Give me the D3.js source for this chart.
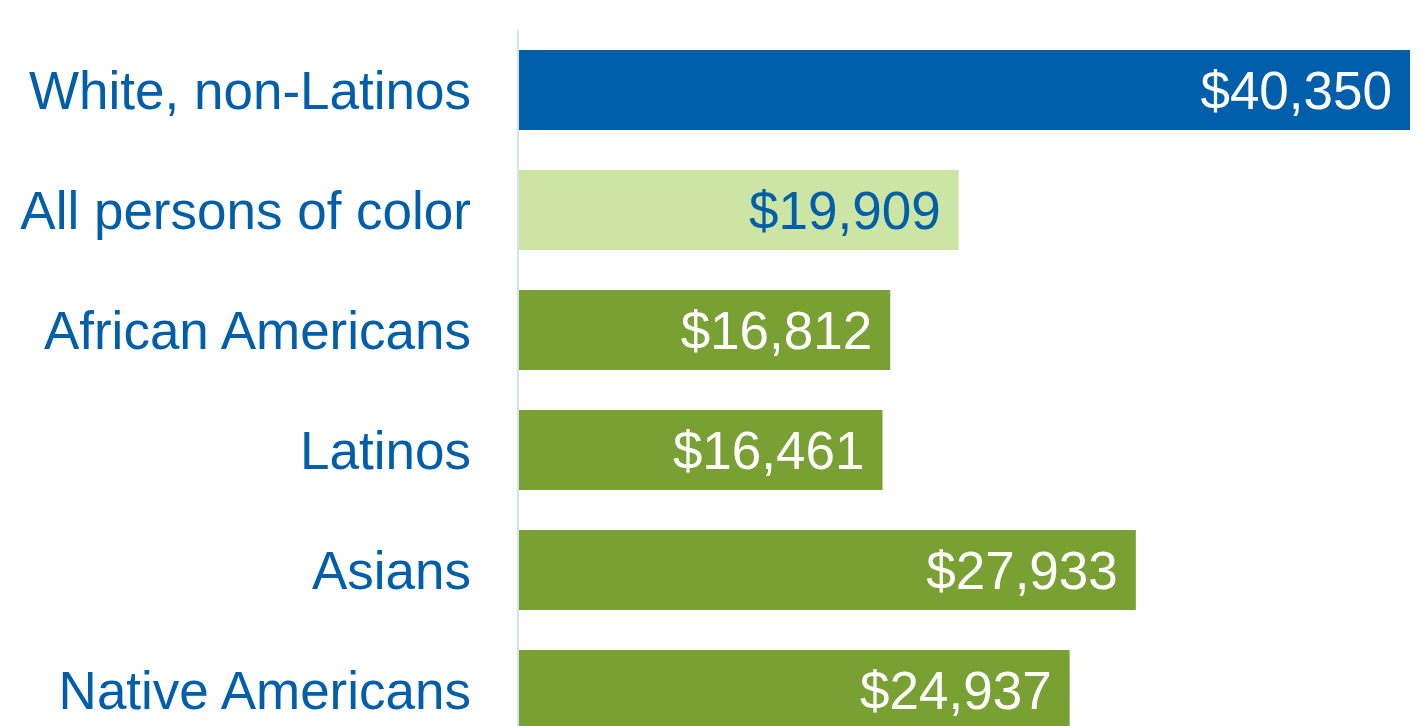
<!DOCTYPE html>
<html>
<head>
<meta charset="utf-8">
<script src="https://cdn.jsdelivr.net/npm/d3@7"></script>
<style>
  html, body { margin: 0; padding: 0; background: #fff; overflow: hidden; }
  svg { display: block; }
  .cat-label { font-family: "Liberation Sans", Arial, sans-serif; font-size: 53px; fill: #005eaa; }
  .val-label { font-family: "Liberation Sans", Arial, sans-serif; font-size: 53px; }
</style>
</head>
<body>
<div id="chart"></div>
<script>
// data
var categories = ['White, non-Latinos', 'All persons of color', 'African Americans',
                  'Latinos', 'Asians', 'Native Americans'];
var incomes = [40350, 19909, 16812, 16461, 27933, 24937];
var groups = ['white', 'poc', 'sub', 'sub', 'sub', 'sub'];

var width = 1420, height = 726;
var area = { left: 518, right: 1410, top: 30, bottom: 750 };

var colors = {
  white: { bar: '#005eaa', text: '#ffffff' },
  poc:   { bar: '#cce4a4', text: '#005eaa' },
  sub:   { bar: '#78a032', text: '#ffffff' }
};

var rows = categories.map(function(c, i) {
  return { name: c, value: incomes[i], group: groups[i] };
});

var svg = d3.select('#chart').append('svg')
  .attr('width', width)
  .attr('height', height);

var x = d3.scaleLinear()
  .domain([0, d3.max(incomes)])
  .range([area.left + 1, area.right]);

var y = d3.scaleBand()
  .domain(categories)
  .range([area.top, area.bottom])
  .paddingInner(1/3)
  .paddingOuter(1/6);

var fmt = function(v) { return '$' + d3.format(',')(v); };

// bars
svg.append('g')
  .selectAll('rect')
  .data(rows)
  .enter().append('rect')
    .attr('x', x(0))
    .attr('y', function(d) { return y(d.name); })
    .attr('width', function(d) { return x(d.value) - x(0); })
    .attr('height', y.bandwidth())
    .attr('fill', function(d) { return colors[d.group].bar; });

// value labels inside bar ends
svg.append('g')
  .selectAll('text')
  .data(rows)
  .enter().append('text')
    .attr('class', 'val-label')
    .attr('x', function(d) { return x(d.value) - 18; })
    .attr('y', function(d) { return y(d.name) + y.bandwidth() / 2; })
    .attr('dy', '0.35em')
    .attr('text-anchor', 'end')
    .attr('fill', function(d) { return colors[d.group].text; })
    .text(function(d) { return fmt(d.value); });

// category axis (line only, labels on the left)
var yAxis = d3.axisLeft(y).tickSize(0).tickPadding(47);

var ax = svg.append('g')
  .attr('transform', 'translate(' + area.left + ',0)')
  .call(yAxis);

ax.select('.domain')
  .attr('stroke', '#cfe4f7')
  .attr('stroke-width', 2)
  .attr('d', 'M0,' + area.top + 'V' + area.bottom);

ax.selectAll('text')
  .attr('class', 'cat-label')
  .attr('fill', null)
  .attr('dy', '0.35em');
ax.attr('font-size', null).attr('font-family', null).attr('fill', null);
</script>
</body>
</html>
